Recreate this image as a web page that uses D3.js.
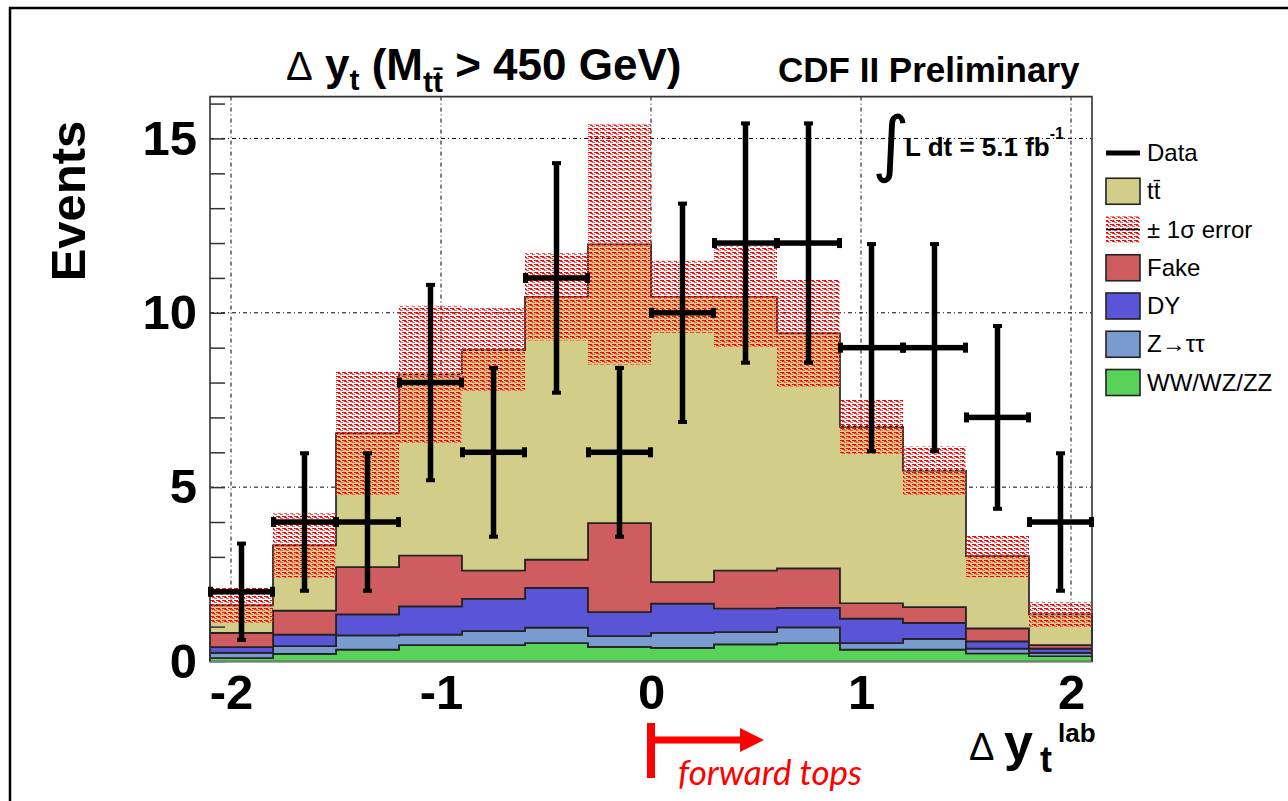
<!DOCTYPE html>
<html>
<head>
<meta charset="utf-8">
<script src="https://cdn.jsdelivr.net/npm/d3@7"></script>
<style>
  body { margin: 0; background: #fff; }
  svg { display: block; font-family: "Liberation Sans", Arial, sans-serif; }
</style>
</head>
<body>
<svg id="chart" width="1288" height="801"></svg>
<script>
// bin edges of delta y (lab frame)
const binEdges = [-2.1, -1.8, -1.5, -1.2, -0.9, -0.6, -0.3, 0, 0.3, 0.6, 0.9, 1.2, 1.5, 1.8, 2.1];

// expected events per bin
const ttbar   = [0.79, 1.87, 3.83, 5.19, 6.32, 7.54, 7.99, 8.18, 7.85, 6.74, 5.06, 3.91, 2.07, 0.88];
const fake    = [0.41, 0.69, 1.36, 1.46, 0.81, 0.81, 2.55, 0.62, 1.09, 1.13, 0.44, 0.45, 0.37, 0.10];
const drellYan = [0.16, 0.33, 0.60, 0.81, 0.93, 1.14, 0.69, 0.84, 0.68, 0.56, 0.70, 0.46, 0.21, 0.12];
const ztautau = [0.15, 0.22, 0.41, 0.30, 0.40, 0.44, 0.31, 0.43, 0.35, 0.45, 0.19, 0.31, 0.14, 0.10];
const diboson = [0.10, 0.22, 0.34, 0.47, 0.47, 0.53, 0.42, 0.39, 0.49, 0.53, 0.34, 0.34, 0.23, 0.15];
// +-1 sigma band half width around the total prediction
const sysErr  = [0.52, 0.92, 1.77, 1.97, 1.20, 1.25, 3.44, 1.03, 1.45, 1.53, 0.77, 0.70, 0.60, 0.36];

// observed data
const dataCounts = [2, 4, 4, 8, 6, 11, 6, 10, 12, 12, 9, 9, 7, 4];
const dataErr    = [1.41, 2.0, 2.0, 2.83, 2.45, 3.32, 2.45, 3.16, 3.46, 3.46, 3.0, 3.0, 2.65, 2.0];

const yMajorTicks = [0, 5, 10, 15];
const xMajorTicks = [-2, -1, 0, 1, 2];

const layerKeys   = ["diboson", "ztautau", "drellYan", "fake", "ttbar"];
const layerColors = {diboson: "#58d258", ztautau: "#7a9bd0", drellYan: "#5a54d6", fake: "#cf5d5f", ttbar: "#d2ce8a"};

const legendItems = [
  {label: "Data", kind: "line"},
  {label: "tt\u0304", kind: "box", key: "ttbar"},
  {label: "\u00b1 1\u03c3 error", kind: "band"},
  {label: "Fake", kind: "box", key: "fake"},
  {label: "DY", kind: "box", key: "drellYan"},
  {label: "Z\u2192\u03c4\u03c4", kind: "box", key: "ztautau"},
  {label: "WW/WZ/ZZ", kind: "box", key: "diboson"}
];

const svg = d3.select("#chart");

const x = d3.scaleLinear().domain([-2.1, 2.1]).range([210, 1092]);
const y = d3.scaleLinear().domain([0, 16.2]).range([661.5, 96.6]);

// hatch pattern for the error band (red dashes, see-through)
const defs = svg.append("defs");
const pat = defs.append("pattern")
  .attr("id", "hatch").attr("width", 6).attr("height", 4)
  .attr("patternUnits", "userSpaceOnUse");
pat.append("rect").attr("x", 0).attr("y", 0).attr("width", 4).attr("height", 1).attr("fill", "#ff0000");
pat.append("rect").attr("x", 2).attr("y", 1).attr("width", 3).attr("height", 1).attr("fill", "#ff1a1a");
pat.append("rect").attr("x", 0).attr("y", 2).attr("width", 1).attr("height", 1).attr("fill", "#ff5a5a");
pat.append("rect").attr("x", 4).attr("y", 2).attr("width", 2).attr("height", 1).attr("fill", "#ff5a5a");

// outer page border
svg.append("rect")
  .attr("x", 10).attr("y", 8).attr("width", 1400).attr("height", 900)
  .attr("fill", "none").attr("stroke", "#000").attr("stroke-width", 2.5);

// grid
const grid = svg.append("g")
  .attr("stroke", "#000").attr("stroke-width", 1).attr("stroke-dasharray", "4,3,1,3");
grid.selectAll(".gy").data(yMajorTicks.filter(d => d > 0)).enter().append("line")
  .attr("x1", x(-2.1)).attr("x2", x(2.1))
  .attr("y1", d => y(d)).attr("y2", d => y(d));
grid.selectAll(".gx").data(xMajorTicks).enter().append("line")
  .attr("x1", d => x(d)).attr("x2", d => x(d))
  .attr("y1", y(16.2)).attr("y2", y(0));

// stacked histogram
const table = ttbar.map((_, i) => ({
  diboson: diboson[i], ztautau: ztautau[i], drellYan: drellYan[i], fake: fake[i], ttbar: ttbar[i]
}));
const stacked = d3.stack().keys(layerKeys)(table);

const nBins = ttbar.length;
const area = d3.area()
  .curve(d3.curveStepAfter)
  .x(d => x(d.edge))
  .y0(d => y(d.lo))
  .y1(d => y(d.hi));

stacked.forEach(layer => {
  const pts = binEdges.map((edge, i) => {
    const b = layer[Math.min(i, nBins - 1)];
    return {edge: edge, lo: b[0], hi: b[1]};
  });
  svg.append("path")
    .attr("d", area(pts))
    .attr("fill", layerColors[layer.key])
    .attr("stroke", "#222")
    .attr("stroke-width", 1.7);
});

// error band around total
const totals = stacked[stacked.length - 1].map(d => d[1]);
svg.append("g").selectAll("rect").data(totals).enter().append("rect")
  .attr("x", (d, i) => x(binEdges[i]))
  .attr("width", (d, i) => x(binEdges[i + 1]) - x(binEdges[i]))
  .attr("y", (d, i) => y(d + sysErr[i]))
  .attr("height", (d, i) => y(d - sysErr[i]) - y(d + sysErr[i]))
  .attr("fill", "url(#hatch)");

// y axis ticks (inside the frame)
svg.append("g")
  .attr("transform", `translate(${x(-2.1)},0)`)
  .call(d3.axisRight(y).tickValues(d3.range(0, 17)).tickSize(15).tickFormat(""))
  .call(g => g.select(".domain").remove())
  .call(g => g.selectAll("line").attr("stroke", "#333").attr("stroke-width", 1.5));

// frame
svg.append("path")
  .attr("d", `M${x(-2.1)},${y(0)}V${y(16.2)}H${x(2.1)}V${y(0)}`)
  .attr("fill", "none").attr("stroke", "#333").attr("stroke-width", 1.6);
svg.append("line")
  .attr("x1", x(-2.1)).attr("x2", x(2.1)).attr("y1", y(0) + 0.5).attr("y2", y(0) + 0.5)
  .attr("stroke", "#9a9a9a").attr("stroke-width", 1.5);

// tick labels (plain hyphen as minus, like the original)
const plain = d => String(d);
svg.append("g")
  .attr("transform", `translate(${x(-2.1)},0)`)
  .call(d3.axisLeft(y).tickValues(yMajorTicks).tickSize(0).tickPadding(13).tickFormat(plain))
  .call(g => g.select(".domain").remove())
  .call(g => g.selectAll("text")
    .attr("font-family", "Liberation Sans, Arial, sans-serif")
    .attr("font-size", 49).attr("font-weight", "bold").attr("fill", "#000"));

svg.append("g")
  .attr("transform", `translate(0,${y(0)})`)
  .call(d3.axisBottom(x).tickValues(xMajorTicks).tickSize(0).tickPadding(13).tickFormat(plain))
  .call(g => g.select(".domain").remove())
  .call(g => g.selectAll("text")
    .attr("font-family", "Liberation Sans, Arial, sans-serif")
    .attr("font-size", 49).attr("font-weight", "bold").attr("fill", "#000"));

// data points with error bars
const dataG = svg.append("g").attr("fill", "#000");
dataCounts.forEach((n, i) => {
  const xl = x(binEdges[i]), xr = x(binEdges[i + 1]), xc = (xl + xr) / 2;
  const yc = y(n), yt = y(n + dataErr[i]), yb = y(n - dataErr[i]);
  dataG.append("rect").attr("x", xl).attr("y", yc - 2.75).attr("width", xr - xl).attr("height", 5.5);
  dataG.append("rect").attr("x", xc - 2.75).attr("y", yt).attr("width", 5.5).attr("height", yb - yt);
  dataG.append("rect").attr("x", xl - 2).attr("y", yc - 5).attr("width", 5).attr("height", 10);
  dataG.append("rect").attr("x", xr - 3).attr("y", yc - 5).attr("width", 5).attr("height", 10);
  dataG.append("rect").attr("x", xc - 4.5).attr("y", yt - 1).attr("width", 9).attr("height", 4);
  dataG.append("rect").attr("x", xc - 4.5).attr("y", yb - 3).attr("width", 9).attr("height", 4);
});

// legend
const legend = svg.append("g");
legendItems.forEach((item, i) => {
  const cy = 153 + i * 38.25;
  const g = legend.append("g");
  if (item.kind === "line") {
    g.append("rect").attr("x", 1106).attr("y", cy - 2.5).attr("width", 34).attr("height", 5).attr("fill", "#000");
  } else if (item.kind === "box") {
    g.append("rect").attr("x", 1106).attr("y", cy - 13).attr("width", 34).attr("height", 26)
      .attr("fill", layerColors[item.key]).attr("stroke", "#222").attr("stroke-width", 1.6);
  } else {
    g.append("rect").attr("x", 1106).attr("y", cy - 13).attr("width", 34).attr("height", 26)
      .attr("fill", "url(#hatch)");
    g.append("line").attr("x1", 1106).attr("x2", 1140).attr("y1", cy).attr("y2", cy)
      .attr("stroke", "#000").attr("stroke-width", 1.5);
  }
  g.append("text").attr("x", 1147).attr("y", cy + 8)
    .attr("font-size", 24).attr("fill", "#000").text(item.label);
});

// title
const title = svg.append("text").attr("x", 286).attr("y", 80)
  .attr("font-size", 44).attr("font-weight", "bold").attr("fill", "#000");
title.append("tspan").attr("font-weight", "normal").attr("font-size", 40).text("\u0394");
title.append("tspan").text(" y");
title.append("tspan").attr("font-size", 30).attr("dy", 10).text("t");
title.append("tspan").attr("dy", -10).text(" (M");
title.append("tspan").attr("font-size", 30).attr("dy", 12).text("tt\u0304");
title.append("tspan").attr("dy", -12).text(" > 450 GeV)");

svg.append("text").attr("x", 778).attr("y", 82)
  .attr("font-size", 35).attr("font-weight", "bold").attr("fill", "#000")
  .text("CDF II Preliminary");

// luminosity
svg.append("text").attr("x", 872).attr("y", 168)
  .attr("font-family", "DejaVu Sans, sans-serif").attr("font-size", 72).attr("fill", "#000")
  .text("\u222b");
const lumi = svg.append("text").attr("x", 905).attr("y", 156)
  .attr("font-size", 26).attr("font-weight", "bold").attr("fill", "#000");
lumi.append("tspan").text("L dt = 5.1 fb");
lumi.append("tspan").attr("font-size", 16).attr("dy", -17).text("-1");

// axis titles
svg.append("text")
  .attr("transform", "translate(85,201) rotate(-90)")
  .attr("text-anchor", "middle")
  .attr("font-size", 49).attr("font-weight", "bold").attr("fill", "#000")
  .text("Events");

svg.append("text").attr("x", 969).attr("y", 760)
  .attr("font-size", 38).attr("fill", "#000").text("\u0394");
svg.append("text").attr("x", 1004).attr("y", 760)
  .attr("font-size", 52).attr("font-weight", "bold").attr("fill", "#000").text("y");
svg.append("text").attr("x", 1058).attr("y", 742)
  .attr("font-size", 26).attr("font-weight", "bold").attr("fill", "#000").text("lab");
svg.append("text").attr("x", 1040).attr("y", 772)
  .attr("font-size", 36).attr("font-weight", "bold").attr("fill", "#000").text("t");

// forward tops annotation
const red = "#ff0000";
svg.append("rect").attr("x", x(0) - 4).attr("y", 723).attr("width", 8).attr("height", 55).attr("fill", red);
svg.append("rect").attr("x", x(0)).attr("y", 736.5).attr("width", 92).attr("height", 7).attr("fill", red);
svg.append("path").attr("d", "M740,728L764,740L740,752Z").attr("fill", red);
svg.append("text").attr("x", 678).attr("y", 785)
  .attr("font-family", "Lato, sans-serif").attr("font-style", "italic")
  .attr("font-size", 35).attr("fill", red).text("forward tops");
</script>
</body>
</html>
